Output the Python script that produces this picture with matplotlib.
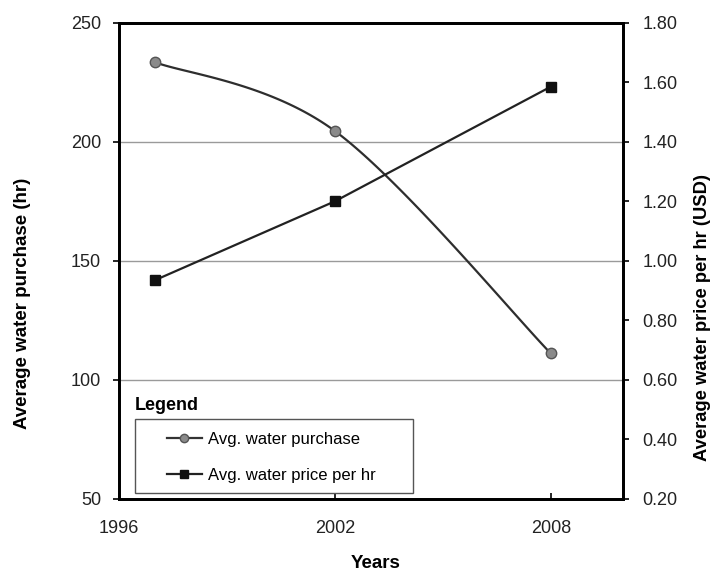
import numpy as np
import matplotlib
matplotlib.use("Agg")
import matplotlib.pyplot as plt
from matplotlib.patches import Rectangle

plt.rcParams["font.family"] = ["Liberation Sans", "DejaVu Sans"]

years = [1997, 2002, 2008]
purchase = [233.4, 204.5, 111.1]
price = [0.935, 1.20, 1.585]

x_ticks = [1996, 2002, 2008]
left_ticks = [50, 100, 150, 200, 250]
right_ticks = [0.20, 0.40, 0.60, 0.80, 1.00, 1.20, 1.40, 1.60, 1.80]
grid_vals = [100, 150, 200]


def smooth(xs, ys, n=60):
    # excel style smoothed line: bezier segments, catmull-rom controls
    xs = np.asarray(xs, float)
    ys = np.asarray(ys, float)
    out_x, out_y = [], []
    t = np.linspace(0, 1, n)
    for i in range(len(xs) - 1):
        i0 = max(i - 1, 0)
        i3 = min(i + 2, len(xs) - 1)
        p1 = np.array([xs[i], ys[i]])
        p2 = np.array([xs[i + 1], ys[i + 1]])
        c1 = p1 + (p2 - np.array([xs[i0], ys[i0]])) / 6
        c2 = p2 - (np.array([xs[i3], ys[i3]]) - p1) / 6
        seg = (((1 - t) ** 3)[:, None] * p1 + (3 * (1 - t) ** 2 * t)[:, None] * c1
               + (3 * (1 - t) * t ** 2)[:, None] * c2 + (t ** 3)[:, None] * p2)
        out_x.extend(seg[:, 0])
        out_y.extend(seg[:, 1])
    return out_x, out_y


fig = plt.figure(figsize=(7.2, 5.74), dpi=100)
ax = fig.add_axes([0.1653, 0.1307, 0.6997, 0.8298])
ax2 = ax.twinx()

ax.set_xlim(1996, 2010)
ax.set_ylim(50, 250)
ax2.set_ylim(0.2, 1.8)

for yv in grid_vals:
    ax.axhline(yv, color="#9a9a9a", lw=1.0, zorder=0)

sx, sy = smooth(years, purchase)
ax.plot(sx, sy, color="#2e2e2e", lw=1.6, zorder=3)
ax.plot(years, purchase, ls="none", marker="o", ms=7.5, mfc="#8a8a8a",
        mec="#555555", mew=1, zorder=4)
ax2.plot(years, price, color="#222222", lw=1.6, marker="s", ms=6.5,
         mfc="#111111", mec="#111111", zorder=4)

ax.set_xticks(x_ticks)
ax.set_yticks(left_ticks)
ax2.set_yticks(right_ticks)
ax2.set_yticklabels([f"{v:.2f}" for v in right_ticks])

for a in (ax, ax2):
    for s in a.spines.values():
        s.set_linewidth(2)
        s.set_color("black")

ax.tick_params(axis="y", direction="out", length=4, width=1.2, labelsize=13,
               labelcolor="#222222", pad=9)
ax.tick_params(axis="x", direction="in", length=4, width=1.2, labelsize=13,
               labelcolor="#222222", pad=15)
ax2.tick_params(axis="y", direction="out", length=4, width=1.2, labelsize=13,
                labelcolor="#222222", pad=10)

ax.set_xlabel("Years", fontsize=13.5, fontweight="bold", va="baseline")
ax.xaxis.set_label_coords(0.51, -0.1455)
ax.set_ylabel("Average water purchase (hr)", fontsize=13.5, fontweight="bold",
              va="center")
ax.yaxis.set_label_coords(-0.1925, 0.411)
ax2.set_ylabel("Average water price per hr (USD)", fontsize=13.2,
               fontweight="bold", va="center")
ax2.yaxis.set_label_coords(1.159, 0.381)

# legend: frame drawn separately, title sits above it
ax2.add_patch(Rectangle((0.0317, 0.0126), 0.5513, 0.1554, transform=ax2.transAxes,
                        fill=True, fc="white", ec="#555555", lw=1.0, zorder=5))
h1 = plt.Line2D([], [], color="#333333", lw=1.6, marker="o", ms=6,
                mfc="#8a8a8a", mec="#555555")
h2 = plt.Line2D([], [], color="#222222", lw=1.6, marker="s", ms=5.5,
                mfc="#111111", mec="#111111")
leg = ax2.legend([h1, h2], ["Avg. water purchase", "Avg. water price per hr"],
                 loc="center left", bbox_to_anchor=(0.0952, 0.0871),
                 fontsize=12, frameon=False, handlelength=2.1,
                 labelspacing=1.3, borderpad=0, borderaxespad=0,
                 handletextpad=0.36)
leg.set_zorder(6)
ax2.text(0.0317, 0.197, "Legend", transform=ax2.transAxes, fontsize=13,
         fontweight="bold", va="center", ha="left", zorder=6)

fig.savefig("out.png", dpi=100)
